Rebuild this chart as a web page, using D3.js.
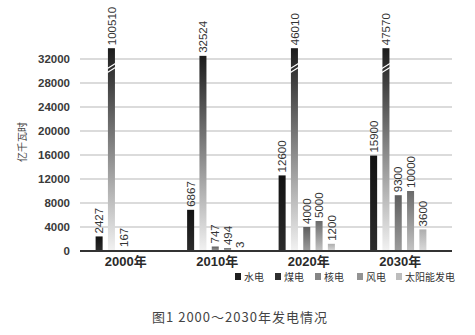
<!DOCTYPE html>
<html><head><meta charset="utf-8">
<script src="https://cdn.jsdelivr.net/npm/d3@7/dist/d3.min.js"></script>
<style>
html,body{margin:0;padding:0;background:#fff;}
svg{display:block;font-family:Arial,"Liberation Sans","Noto Sans CJK SC",sans-serif;}
</style></head>
<body>
<svg id="chart" width="475" height="335"></svg>
<script>
const years = ["2000年","2010年","2020年","2030年"];
const series = ["水电","煤电","核电","风电","太阳能发电"];
const hydro   = [2427, 6867, 12600, 15900];
const coal    = [100510, 32524, 46010, 47570];
const nuclear = [167, 747, 4000, 9300];
const wind    = [null, 494, 5000, 10000];
const solar   = [null, 3, 1200, 3600];
const yTicks  = [0, 4000, 8000, 12000, 16000, 20000, 24000, 28000, 32000];
const yMax = 32000;
const breakCap = 33800;   // displayed height of broken (truncated) bars
const yTitle = "亿千瓦时";
const caption = "图1 2000～2030年发电情况";

(function () {
const values = [hydro, coal, nuclear, wind, solar];
const gradStops = [
  ["#121212", "#2c2c2c"],
  ["#1c1c1c", "#f2f2f2"],
  ["#5e5e5e", "#9c9c9c"],
  ["#6a6a6a", "#c4c4c4"],
  ["#aeaeae", "#dadada"]
];
const legendColors = ["#1e1e1e", "#2e2e2e", "#858585", "#939393", "#bdbdbd"];

const svg = d3.select("#chart");
const defs = svg.append("defs");
series.forEach((s, i) => {
  const g = defs.append("linearGradient").attr("id", "g" + i)
    .attr("x1", 0).attr("y1", 0).attr("x2", 0).attr("y2", 1);
  g.append("stop").attr("offset", "0%").attr("stop-color", gradStops[i][0]);
  g.append("stop").attr("offset", "100%").attr("stop-color", gradStops[i][1]);
});

const left = 80, right = 452;
const x0 = d3.scaleBand().domain(years).range([78, 444]);
const x1 = d3.scaleBand().domain(series).range([0, x0.bandwidth()])
  .paddingInner(0.43).paddingOuter(1.43);
const y = d3.scaleLinear().domain([0, yMax]).range([251, 59]);

// gridlines
svg.append("g").selectAll("line").data(yTicks.filter(d => d > 0)).join("line")
  .attr("x1", left).attr("x2", right)
  .attr("y1", d => y(d)).attr("y2", d => y(d))
  .attr("stroke", "#cfcfcf").attr("stroke-width", 1.5);

// y axis tick labels
const yAxis = svg.append("g").attr("transform", `translate(${left},0)`)
  .call(d3.axisLeft(y).tickValues(yTicks).tickSize(0).tickPadding(10).tickFormat(d3.format("d")));
yAxis.select(".domain").remove();
yAxis.selectAll("text").attr("font-size", "11.5px").attr("font-weight", "bold")
  .attr("fill", "#3a3a3a").attr("font-family", "Arial,'Liberation Sans',sans-serif");

// y title
svg.append("text").attr("transform", "translate(22,142) rotate(-90)")
  .attr("text-anchor", "middle").attr("dy", "0.35em")
  .attr("font-size", "10px").attr("fill", "#444").text(yTitle);

// bars
const rows = [];
years.forEach((yr, j) => series.forEach((s, i) => {
  const v = values[i][j];
  if (v != null) rows.push({yr, s, i, v, broken: v > breakCap});
}));
const bx = d => x0(d.yr) + x1(d.s);
const barTop = d => y(Math.min(d.v, breakCap));

svg.append("g").selectAll("rect").data(rows).join("rect")
  .attr("x", bx).attr("width", x1.bandwidth())
  .attr("y", barTop).attr("height", d => y(0) - barTop(d))
  .attr("fill", d => `url(#g${d.i})`);

// break marks
const brk = svg.append("g");
rows.filter(d => d.broken).forEach(d => {
  const xa = bx(d), w = x1.bandwidth(), yb = y(yMax) + 9;
  [-2, 2].forEach(o => {
    brk.append("line")
      .attr("x1", xa - 0.5).attr("x2", xa + w + 0.5)
      .attr("y1", yb + o + 2.5).attr("y2", yb + o - 2.5)
      .attr("stroke", "#fff").attr("stroke-width", 1.2);
  });
});

// value labels
svg.append("g").selectAll("text").data(rows).join("text")
  .attr("transform", d => `translate(${bx(d) + x1.bandwidth() / 2},${barTop(d) - 3}) rotate(-90)`)
  .attr("dy", "0.36em").attr("text-anchor", "start")
  .attr("font-size", "11.5px").attr("fill", "#333")
  .text(d => d.v);

// baseline
svg.append("line").attr("x1", left).attr("x2", right)
  .attr("y1", y(0)).attr("y2", y(0))
  .attr("stroke", "#333").attr("stroke-width", 2);

// x labels
svg.append("g").selectAll("text").data(years).join("text")
  .attr("x", d => x0(d) + x0.bandwidth() / 2 + 2).attr("y", 266)
  .attr("text-anchor", "middle").attr("font-size", "13px").attr("font-weight", "bold")
  .attr("fill", "#2a2a2a").text(d => d);

// legend
const legendX = [235, 275, 315, 357, 396];
const lg = svg.append("g");
series.forEach((s, i) => {
  lg.append("rect").attr("x", legendX[i]).attr("y", 273).attr("width", 6).attr("height", 7)
    .attr("fill", legendColors[i]);
  lg.append("text").attr("x", legendX[i] + 9).attr("y", 277).attr("dy", "0.35em")
    .attr("font-size", "10px").attr("fill", "#333").text(s);
});

// caption
svg.append("text").attr("x", 240).attr("y", 322).attr("text-anchor", "middle")
  .attr("font-size", "13px").attr("letter-spacing", "1px").attr("fill", "#444")
  .attr("font-family", "'Noto Sans CJK SC',sans-serif").text(caption);
})();
</script>
</body></html>
